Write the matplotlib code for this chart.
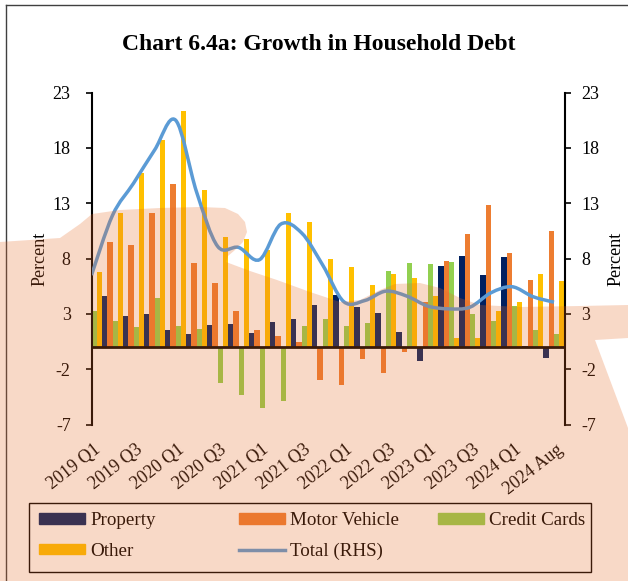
import numpy as np
import matplotlib
matplotlib.use("Agg")
import matplotlib.pyplot as plt
import matplotlib.transforms as mtransforms
from matplotlib.path import Path
from matplotlib.patches import PathPatch, Polygon, Rectangle, Patch
from matplotlib.lines import Line2D

plt.rcParams['font.family'] = ['Liberation Serif', 'DejaVu Serif']
plt.rcParams['axes.unicode_minus'] = False

# categories: 2019 Q1 .. 2024 Q2, then 2024 Aug
periods = [f"{y} Q{q}" for y in range(2019, 2024) for q in range(1, 5)] + ["2024 Q1", "2024 Q2", "2024 Aug"]

# growth rates (per cent)
property_ = [4.9, 4.6, 2.8, 3.0, 1.5, 1.2, 2.0, 2.1, 1.3, 2.3, 2.5, 3.8, 4.7, 3.6, 3.1, 1.35, -1.25, 7.3, 8.2, 6.5, 8.15, 0.05, -1.0]
motor_vehicle = [9.6, 9.5, 9.2, 12.1, 14.7, 7.6, 5.8, 3.3, 1.5, 1.0, 0.5, -2.95, -3.45, -1.05, -2.35, -0.45, 4.1, 7.8, 10.25, 12.8, 8.5, 6.1, 10.5]
credit_cards = [3.25, 2.35, 1.8, 4.4, 1.9, 1.6, -3.25, -4.3, -5.5, -4.9, 1.9, 2.55, 1.9, 2.15, 6.9, 7.6, 7.5, 7.7, 3.0, 2.35, 3.7, 1.5, 1.2]
other = [6.8, 12.15, 15.7, 18.7, 21.3, 14.2, 9.9, 9.75, 8.8, 12.15, 11.3, 8.0, 7.2, 5.6, 6.6, 6.2, 4.6, 0.85, 0.85, 3.3, 4.1, 6.6, 5.95]
total = [6.5, 11.9, 14.8, 17.8, 20.5, 14.0, 9.1, 9.0, 7.9, 11.1, 10.3, 7.4, 4.1, 4.2, 5.05, 4.6, 3.7, 3.45, 3.6, 4.9, 5.45, 4.55, 4.05]

yticks = [-7, -2, 3, 8, 13, 18, 23]

c_prop = '#002060'
c_mv = '#ED7D31'
c_cc = '#92D050'
c_oth = '#FFC000'
c_tot = '#5B9BD5'

W, H = 628, 581
fig = plt.figure(figsize=(W / 100, H / 100), dpi=100)

def fx(px):
    return px / W

def fy(py):
    return 1 - py / H

ax = fig.add_axes([fx(91.5), fy(424.5), 473 / W, 332 / H])
ax.patch.set_visible(False)

x = np.arange(len(periods))
bw = 0.25
ax.bar(x - 1.5 * bw, property_, bw, color=c_prop, zorder=2)
ax.bar(x - 0.5 * bw, motor_vehicle, bw, color=c_mv, zorder=2)
ax.bar(x + 0.5 * bw, credit_cards, bw, color=c_cc, zorder=2)
ax.bar(x + 1.5 * bw, other, bw, color=c_oth, zorder=2)
ax.axhline(0, color='black', lw=2, zorder=3)

ax.set_xlim(0, 22.5)
ax.set_ylim(-7, 23)
ax.set_yticks(yticks)
ax.set_xticks(x[::2])
ax.set_xticklabels(periods[::2], rotation=38, ha='right', va='top', rotation_mode='anchor')
ax.tick_params(axis='x', length=0, labelsize=13, pad=12)
ax.tick_params(axis='y', direction='out', length=4, width=1.2, labelsize=13, pad=11)
shift = mtransforms.ScaledTranslation(2 / 100, 0, fig.dpi_scale_trans)
for lab in ax.get_xticklabels():
    lab.set_transform(lab.get_transform() + shift)
for s in ['top', 'bottom', 'right']:
    ax.spines[s].set_visible(False)
ax.spines['left'].set_linewidth(1.5)
ax.set_ylabel('Percent', fontsize=13)
ax.yaxis.set_label_coords(-0.09, 0.5)

# total on the right-hand axis, smoothed like the original
ax2 = ax.twinx()
ax2.set_ylim(-7, 23)
ax2.set_yticks(yticks)
ax2.tick_params(axis='y', direction='out', length=4, width=1.2, labelsize=13, pad=8)
for s in ['top', 'bottom', 'left']:
    ax2.spines[s].set_visible(False)
ax2.spines['right'].set_linewidth(1.5)
ax2.set_ylabel('Percent', fontsize=13, rotation=90)
ax2.yaxis.set_label_coords(1.09, 0.5)

pts = np.column_stack([x, total]).astype(float)
ext = np.vstack([pts[0], pts, pts[-1]])
verts = [pts[0]]
codes = [Path.MOVETO]
for i in range(len(pts) - 1):
    p0, p1, p2, p3 = ext[i], ext[i + 1], ext[i + 2], ext[i + 3]
    verts += [p1 + (p2 - p0) / 6, p2 - (p3 - p1) / 6, p2]
    codes += [Path.CURVE4] * 3
ax2.add_patch(PathPatch(Path(verts, codes), fill=False, edgecolor=c_tot, lw=2.5, zorder=4))

fig.text(fx(319), fy(45), 'Chart 6.4a: Growth in Household Debt', ha='center', va='center',
         fontsize=17, fontweight='bold')

# legend in three columns like the original
kw = dict(frameon=False, fontsize=13.7, handlelength=2.4, handleheight=0.5, handletextpad=0.3,
          labelspacing=0.72, borderpad=0, borderaxespad=0, loc='upper left')
fig.legend([Patch(color=c_prop), Patch(color=c_oth)], ['Property', 'Other'],
           bbox_to_anchor=(fx(39), fy(512)), **kw)
fig.legend([Patch(color=c_mv), Line2D([], [], color=c_tot, lw=2.5)], ['Motor Vehicle', 'Total (RHS)'],
           bbox_to_anchor=(fx(239), fy(512)), **kw)
fig.legend([Patch(color=c_cc)], ['Credit Cards'],
           bbox_to_anchor=(fx(438), fy(512)), **kw)
fig.add_artist(Rectangle((fx(29), fy(572)), fx(591) - fx(29), fy(502.7) - fy(572),
                         transform=fig.transFigure, fill=False, edgecolor='black', lw=1))

# outer frame
fig.add_artist(Line2D([fx(6), 1], [fy(5), fy(5)], transform=fig.transFigure, color='#404040', lw=1))
fig.add_artist(Line2D([fx(6), fx(6)], [0, fy(5)], transform=fig.transFigure, color='#404040', lw=1))

# faded background watermark of the source page
wm = [(0, 242), (60, 238), (80, 224), (92, 214), (120, 210), (160, 208), (200, 207), (225, 208),
      (238, 214), (245, 222), (247, 232), (243, 242), (235, 250), (228, 256), (226, 262),
      (250, 271), (277, 280), (310, 292), (340, 302), (360, 300), (380, 290), (395, 284),
      (420, 283), (440, 288), (460, 298), (480, 305), (520, 307), (580, 306), (628, 305),
      (628, 338), (595, 340), (628, 428), (628, 581), (0, 581)]
fig.add_artist(Polygon([(fx(a), fy(b)) for a, b in wm], closed=True, transform=fig.transFigure,
                       facecolor='#E76A27', edgecolor='none', alpha=0.255, zorder=20))

fig.savefig('out.png', dpi=100)
